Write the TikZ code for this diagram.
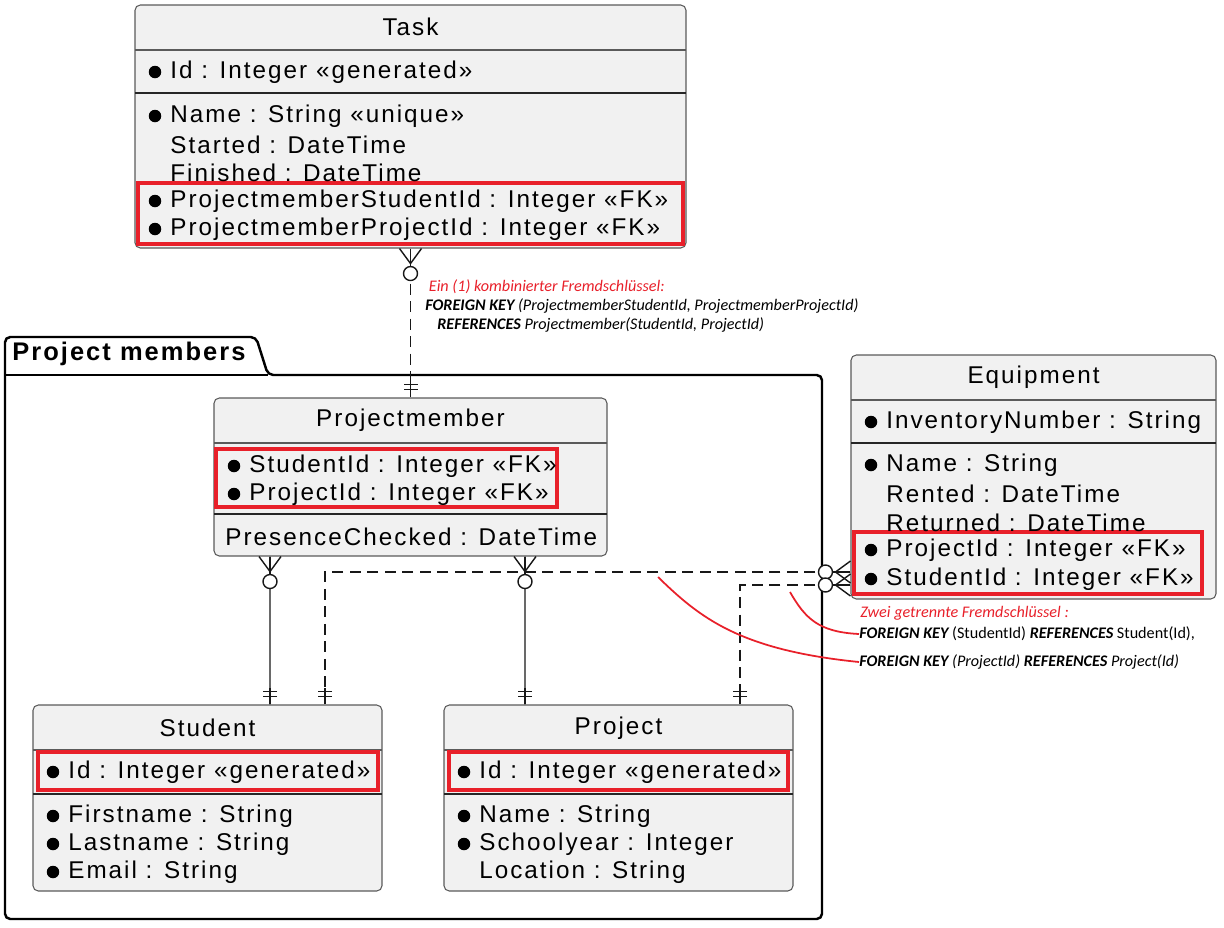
\documentclass[tikz,border=0pt]{standalone}
\usepackage{fontspec}
\usepackage{xcolor}
\setmainfont{Liberation Sans}
\newfontfamily\erfont[LetterSpace=8.3]{Liberation Sans}
\newfontfamily\pkgfont[LetterSpace=8]{Liberation Sans}
\newfontfamily\notefont{Carlito}
\usetikzlibrary{positioning, calc, fit}
\definecolor{entfill}{HTML}{F1F1F1}
\definecolor{entborder}{HTML}{5A5A5A}
\definecolor{relcolor}{HTML}{181818}
\definecolor{fkred}{HTML}{E8202A}
\newcommand{\opt}{\hspace{0.44cm}}
\newcommand{\kw}[1]{\textbf{#1}}

\begin{document}
\begin{tikzpicture}[
    x=0.02cm, y=-0.02cm,
    % Entity styles
    entbox/.style={
        draw=entborder, fill=entfill, line width=0.6pt,
        rounded corners=3pt, inner sep=0
    },
    enttitle/.style={
        font=\erfont\fontsize{13.8}{16}\selectfont, inner sep=0
    },
    attr/.style={
        anchor=west, yshift=-0.03cm, font=\erfont\fontsize{13.8}{16}\selectfont, inner sep=0
    },
    fkbox/.style={
        draw=fkred, line width=2pt, inner sep=0
    },
    titlesep/.style={draw=entborder, line width=0.6pt},
    pksep/.style={draw=black!85, line width=1.1pt},
    % Relation styles
    rel/.style={draw=relcolor, line width=0.8pt},
    optrel/.style={rel, dash pattern=on 0.22cm off 0.13cm},
    zeromany/.pic={
        \draw[rel] (-11,0) -- (0,15) -- (11,0);
        \draw[rel] (0,0) -- (0,18);
        \draw[rel, fill=white] (0,25) circle (0.14cm);
    },
    exactlyone/.pic={
        \draw[rel] (0,0) -- (0,16);
        \draw[rel] (-7,8) -- (7,8) (-7,13) -- (7,13);
    },
    % Package and note styles
    pkgline/.style={draw=black, line width=1.4pt},
    note/.style={
        font=\notefont\itshape\fontsize{9.2}{10.8}\selectfont,
        inner sep=0, align=left
    },
    notecurve/.style={draw=fkred, line width=1pt}
]
\useasboundingbox (0,0) rectangle (1224,927);

% ============ PACKAGE ============
\draw[pkgline, rounded corners=3pt] (5,919) -- (5,337) -- (256,337) -- (268,375)
    -- (822,375) -- (822,919) -- cycle;
\draw[pkgline] (5,375) -- (268,375);
\node[anchor=west, inner sep=0, font=\pkgfont\bfseries\fontsize{14.5}{16}\selectfont]
    (pkg-title) at (12,354) {Project members};

% ============ TASK ============
\node[entbox, fit={(135,5) (686,248)}] (task) {};
\node[enttitle] (task-title) at (410.5,27) {Task};
\draw[titlesep] (135,50) -- (686,50);
\draw[pksep] (135,93) -- (686,93);
\node[fkbox, fit={(138,183) (683,244)}] (task-fk) {};
\node[attr] (task-id) at (148,71) {\opt Id : Integer «generated»};
\node[attr] (task-name) at (148,115) {\opt Name : String «unique»};
\node[attr] (task-started) at (148,143) {\opt Started : DateTime};
\node[attr] (task-finished) at (148,171) {\opt Finished : DateTime};
\node[attr] (task-psid) at (148,200) {\opt ProjectmemberStudentId : Integer «FK»};
\node[attr] (task-ppid) at (148,228) {\opt ProjectmemberProjectId : Integer «FK»};

% ============ PROJECTMEMBER ============
\node[entbox, fit={(214,398) (607,556)}] (pm) {};
\node[enttitle] (pm-title) at (410.5,420) {Projectmember};
\draw[titlesep] (214,443) -- (607,443);
\draw[pksep] (214,514) -- (607,514);
\node[fkbox, fit={(216,449) (557,507)}] (pm-fk) {};
\node[attr] (pm-sid) at (227,465) {\opt StudentId : Integer «FK»};
\node[attr] (pm-pid) at (227,493) {\opt ProjectId : Integer «FK»};
\node[attr] (pm-checked) at (225,535) {PresenceChecked : DateTime};

% ============ EQUIPMENT ============
\node[entbox, fit={(851,355) (1216,599)}] (equip) {};
\node[enttitle] (equip-title) at (1033.5,377) {Equipment};
\draw[titlesep] (851,400) -- (1216,400);
\draw[pksep] (851,443) -- (1216,443);
\node[fkbox, fit={(854,532) (1202,594)}] (equip-fk) {};
\node[attr] (equip-inv) at (864,421) {\opt InventoryNumber : String};
\node[attr] (equip-name) at (864,464) {\opt Name : String};
\node[attr] (equip-rented) at (864,492) {\opt Rented : DateTime};
\node[attr] (equip-returned) at (864,521) {\opt Returned : DateTime};
\node[attr] (equip-pid) at (864,549) {\opt ProjectId : Integer «FK»};
\node[attr] (equip-sid) at (864,578) {\opt StudentId : Integer «FK»};

% ============ STUDENT ============
\node[entbox, fit={(33,705) (382,891)}] (student) {};
\node[enttitle] (student-title) at (207.5,728) {Student};
\draw[titlesep] (33,750) -- (382,750);
\draw[pksep] (33,794) -- (382,794);
\node[fkbox, fit={(38,752) (378,790)}] (student-pk) {};
\node[attr] (student-id) at (46,771) {\opt Id : Integer «generated»};
\node[attr] (student-first) at (46,815) {\opt Firstname : String};
\node[attr] (student-last) at (46,843) {\opt Lastname : String};
\node[attr] (student-email) at (46,871) {\opt Email : String};

% ============ PROJECT ============
\node[entbox, fit={(444,705) (793,891)}] (project) {};
\node[enttitle] (project-title) at (618.5,728) {Project};
\draw[titlesep] (444,750) -- (793,750);
\draw[pksep] (444,794) -- (793,794);
\node[fkbox, fit={(449,752) (788,790)}] (project-pk) {};
\node[attr] (project-id) at (457,771) {\opt Id : Integer «generated»};
\node[attr] (project-name) at (457,815) {\opt Name : String};
\node[attr] (project-year) at (457,843) {\opt Schoolyear : Integer};
\node[attr] (project-loc) at (457,871) {\opt Location : String};

% mandatory attribute bullets
\foreach \attrname in {task-id, task-name, task-psid, task-ppid, pm-sid, pm-pid,
    equip-inv, equip-name, equip-pid, equip-sid,
    student-id, student-first, student-last, student-email,
    project-id, project-name, project-year}
    \fill ($(\attrname.west)+(7,-0.5)$) circle (0.125cm);

% ============ RELATIONS ============
% Task -> Projectmember (combined key)
\draw[optrel] (task.south) -- (pm.north);
\pic at (task.south) {zeromany};
\pic[rotate=180] at (pm.north) {exactlyone};

% Projectmember -> Student / Project
\draw[rel] ($(pm.south)+(-140.5,0)$) -- ($(student.north)+(62.5,0)$);
\pic at ($(pm.south)+(-140.5,0)$) {zeromany};
\pic[rotate=180] at ($(student.north)+(62.5,0)$) {exactlyone};

\draw[rel] ($(pm.south)+(114.5,0)$) -- ($(project.north)+(-93.5,0)$);
\pic at ($(pm.south)+(114.5,0)$) {zeromany};
\pic[rotate=180] at ($(project.north)+(-93.5,0)$) {exactlyone};

% Equipment -> Student / Project
\draw[optrel] ($(equip.west)+(0,95)$) -| ($(student.north)+(117.5,0)$);
\draw[optrel] ($(equip.west)+(0,108)$) -| ($(project.north)+(121.5,0)$);
\pic[rotate=-90] at ($(equip.west)+(0,95)$) {zeromany};
\pic[rotate=-90] at ($(equip.west)+(0,108)$) {zeromany};
\pic[rotate=180] at ($(student.north)+(117.5,0)$) {exactlyone};
\pic[rotate=180] at ($(project.north)+(121.5,0)$) {exactlyone};

% ============ NOTES ============
\node[note, anchor=north west] (note-task) at (425,279) {
    \hspace{2pt}\textcolor{fkred}{Ein (1) kombinierter Fremdschlüssel:}\\
    \kw{FOREIGN KEY} (ProjectmemberStudentId, ProjectmemberProjectId)\\
    \hspace{0.24cm}\kw{REFERENCES} Projectmember(StudentId, ProjectId)
};

\node[note, anchor=west, text=fkred] (note-equip) at (860,613) {Zwei getrennte Fremdschlüssel :};
\node[note, anchor=west] (note-sfk) at (859,634) {\kw{FOREIGN KEY} {\upshape(StudentId)} \kw{REFERENCES} {\upshape Student(Id),}};
\node[note, anchor=west] (note-pfk) at (859,662) {\kw{FOREIGN KEY} (ProjectId) \kw{REFERENCES} Project(Id)};

\coordinate (pfk-from) at (658,577);
\coordinate (sfk-from) at (790,592);
\draw[notecurve] (pfk-from) .. controls (700,618) and (740,650) .. (note-pfk.west);
\draw[notecurve] (sfk-from) .. controls (805,618) and (818,632) .. (note-sfk.west);

\end{tikzpicture}
\end{document}
